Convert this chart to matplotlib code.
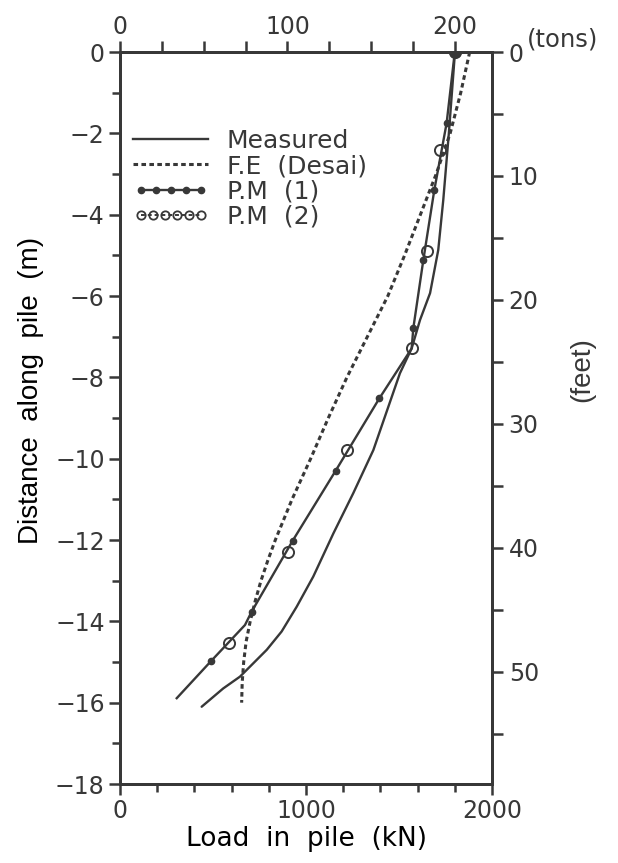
import matplotlib
matplotlib.use('Agg')
import matplotlib.pyplot as plt
from matplotlib.ticker import MultipleLocator, FixedLocator
from matplotlib.lines import Line2D
from matplotlib.legend_handler import HandlerLine2D

# ---- data ----
meas_depth = [0, -2.0, -3.64, -4.87, -5.93, -6.59, -7.29, -7.9, -9.79, -10.85,
              -11.84, -12.9, -13.64, -14.25, -14.7, -15.03, -15.36, -15.65, -16.1]
meas_load = [1801, 1768, 1738, 1711, 1667, 1613, 1568, 1505, 1362, 1254,
             1147, 1039, 950, 869, 789, 717, 645, 555, 439]

fe_depth = [0, -1, -2, -3, -4, -5, -6, -7, -8, -9, -10, -11, -12, -12.5,
            -13, -13.5, -14, -14.5, -15, -15.5, -16]
fe_load = [1880, 1832, 1775, 1700, 1615, 1530, 1440, 1330, 1220, 1120, 1025,
           925, 835, 795, 758, 727, 700, 678, 665, 657, 654]

pm1_depth = [0, -1.75, -3.39, -5.11, -6.79, -7.29, -8.52, -10.3, -12.02,
             -13.76, -14.09, -14.98, -15.89]
pm1_load = [1800, 1756, 1690, 1631, 1577, 1568, 1394, 1159, 928,
            708, 672, 489, 305]
pm1_marks = [0, 1, 2, 3, 4, 6, 7, 8, 9, 11]

pm2_depth = [0, -2.41, -4.89, -7.29, -9.79, -12.29, -14.54]
pm2_load = [1800, 1720, 1649, 1568, 1219, 901, 588]

labels = ["Measured", "F.E  (Desai)", "P.M  (1)", "P.M  (2)"]
KN_PER_TON = 9.0
M_PER_FT = 0.3048

C = '#383838'
FS = 17
FL = 18
plt.rcParams['font.family'] = ['DejaVu Sans']
plt.rcParams['text.color'] = C
plt.rcParams['axes.edgecolor'] = C
plt.rcParams['xtick.color'] = C
plt.rcParams['ytick.color'] = C

fig = plt.figure(figsize=(6.18, 8.63), dpi=100)
ax = fig.add_axes([120/618, 79/863, 372/618, 732/863])
ax.set_xlim(0, 2000)
ax.set_ylim(-18, 0)

lw = 1.7
ax.plot(meas_load, meas_depth, color=C, lw=lw, solid_capstyle='round')
ax.plot(fe_load, fe_depth, color=C, lw=2.2, linestyle=(0, (1.5, 1.1)))
ax.plot(pm1_load, pm1_depth, color=C, lw=lw, marker='o', ms=4.5,
        markevery=pm1_marks, mfc=C, mec=C)
ax.plot(pm2_load, pm2_depth, linestyle='none', marker='o', ms=8,
        mfc='none', mec=C, mew=1.4)
ax.plot(pm1_load[:1], pm1_depth[:1], linestyle='none', marker='o', ms=8, color=C)

for s in ax.spines.values():
    s.set_linewidth(2.0)

ax.xaxis.set_major_locator(MultipleLocator(1000))
ax.xaxis.set_minor_locator(MultipleLocator(200))
ax.yaxis.set_major_locator(MultipleLocator(2))
ax.yaxis.set_minor_locator(MultipleLocator(1))
ax.tick_params(which='major', direction='out', length=8, width=1.8, labelsize=FS, pad=3)
ax.tick_params(which='minor', direction='out', length=6, width=1.8)
ax.set_xlabel("Load  in  pile  (kN)", fontsize=19, labelpad=2)
ax.set_ylabel("Distance  along  pile  (m)", fontsize=20, labelpad=8,
              family=['Liberation Sans', 'DejaVu Sans'])
ax.yaxis.label.set_y(0.538)

# top axis: tons
axt = ax.twiny()
axt.set_xlim(0, 2000 / KN_PER_TON)
axt.xaxis.set_major_locator(FixedLocator([0, 100, 200]))
axt.xaxis.set_minor_locator(FixedLocator([25, 50, 75, 125, 150, 175]))
axt.tick_params(which='major', direction='out', length=8, width=1.8, labelsize=FS, pad=1)
axt.tick_params(which='minor', direction='out', length=8, width=1.8)

# right axis: feet
axr = ax.twinx()
axr.set_ylim(18 / M_PER_FT, 0)
axr.yaxis.set_major_locator(FixedLocator([0, 10, 20, 30, 40, 50]))
axr.yaxis.set_minor_locator(FixedLocator([5, 15, 25, 35, 45, 55]))
axr.tick_params(which='major', direction='out', length=8, width=1.8, labelsize=FS, pad=4)
axr.tick_params(which='minor', direction='out', length=8, width=1.8)
for a in (axt, axr):
    for s in a.spines.values():
        s.set_linewidth(2.0)

fig.text(527/618, 1 - 40/863, "(tons)", fontsize=17.5, ha='left', va='center', color=C)
fig.text(582/618, 1 - 370/863, "(feet)", fontsize=20, rotation=90,
         ha='center', va='center', color=C,
         family=['Liberation Sans', 'DejaVu Sans'])

# legend proxies
h1 = Line2D([], [], color=C, lw=lw)
h2 = Line2D([], [], color=C, lw=2.2, linestyle=(0, (1.5, 1.1)))
h3 = Line2D([], [], color=C, lw=lw, marker='o', ms=4.5)
h4 = Line2D([], [], color=C, lw=1.4, linestyle=(0, (2, 1.5)), marker='o', ms=6,
            mfc='none', mew=1.3)
leg = ax.legend([h1, h2, h3, h4], labels, loc='upper left',
                bbox_to_anchor=(0.035, 0.895), frameon=False, fontsize=FL,
                handlelength=3.0, handletextpad=0.75, labelspacing=0.05,
                borderpad=0, borderaxespad=0,
                handler_map={h3: HandlerLine2D(numpoints=5),
                             h4: HandlerLine2D(numpoints=6)})

fig.savefig('out.png', dpi=100, facecolor='white')
